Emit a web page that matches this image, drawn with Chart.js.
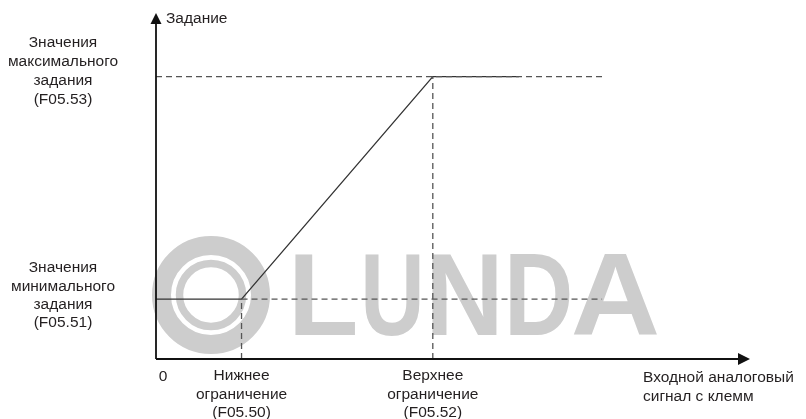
<!DOCTYPE html>
<html>
<head>
<meta charset="utf-8">
<script src="https://cdn.jsdelivr.net/npm/chart.js@4/dist/chart.umd.min.js"></script>
<style>
html,body{margin:0;padding:0;background:#fff;}
#wrap{width:806px;height:419px;position:relative;}
</style>
</head>
<body>
<div id="wrap"><canvas id="c" width="806" height="419"></canvas></div>
<script>
// ---- data (arbitrary axis units 0..100) ----
const axisRange = [0, 100];
const lowerLimitX = 14.4;   // F05.50
const upperLimitX = 46.6;   // F05.52
const flatEndX = 61.1;
const dashEndX = 75.1;
const minSetY = 17.3;       // F05.51
const maxSetY = 81.6;       // F05.53

const curveX = [0, lowerLimitX, upperLimitX, flatEndX];
const curveY = [minSetY, minSetY, maxSetY, maxSetY];

const yAxisTitle = 'Задание';
const xAxisTitle = ['Входной аналоговый', 'сигнал с клемм'];
const originLabel = '0';
const maxLabel = ['Значения', 'максимального', 'задания', '(F05.53)'];
const minLabel = ['Значения', 'минимального', 'задания', '(F05.51)'];
const lowerLabel = ['Нижнее', 'ограничение', '(F05.50)'];
const upperLabel = ['Верхнее', 'ограничение', '(F05.52)'];
const watermarkText = 'LUNDA';

const pts = (xs, ys) => xs.map((x, i) => ({x: x, y: ys[i]}));
const dashStyle = {borderColor: '#555', borderWidth: 1.3, borderDash: [6, 4], pointRadius: 0, fill: false};

const FONT = '"Liberation Sans", Arial, Helvetica, sans-serif';
const TEXT_COLOR = '#231f20';

function drawLines(ctx, lines, cx, cy, lh, align) {
  ctx.textAlign = align;
  ctx.textBaseline = 'middle';
  lines.forEach((l, i) => ctx.fillText(l, cx, cy + i * lh));
}

// watermark glyph boxes (pixels): left, right; shared top/bottom
const wmBoxes = [[295, 355], [365, 420], [432, 497], [510, 570], [573, 657]];
const wmTop = 255, wmBottom = 335;

const decorPlugin = {
  id: 'decor',
  beforeDatasetsDraw(chart) {
    const ctx = chart.ctx;
    ctx.save();
    ctx.strokeStyle = '#cdcdcd';
    ctx.fillStyle = '#cdcdcd';
    // ring logo
    ctx.lineWidth = 19;
    ctx.beginPath(); ctx.arc(211, 295, 49.5, 0, Math.PI * 2); ctx.stroke();
    ctx.lineWidth = 7.5;
    ctx.beginPath(); ctx.arc(211, 295, 31.5, 0, Math.PI * 2); ctx.stroke();
    // letters
    ctx.font = 'bold 112px ' + FONT;
    ctx.textAlign = 'left';
    ctx.textBaseline = 'alphabetic';
    watermarkText.split('').forEach((ch, i) => {
      const m = ctx.measureText(ch);
      const inkL = -m.actualBoundingBoxLeft;
      const inkW = m.actualBoundingBoxRight + m.actualBoundingBoxLeft;
      const asc = m.actualBoundingBoxAscent;
      const [l, r] = wmBoxes[i];
      const sx = (r - l) / inkW;
      const sy = (wmBottom - wmTop) / asc;
      ctx.save();
      ctx.translate(l, wmBottom);
      ctx.scale(sx, sy);
      ctx.fillText(ch, -inkL, 0);
      ctx.restore();
    });
    ctx.restore();
  },
  afterDatasetsDraw(chart) {
    const ctx = chart.ctx;
    const xs = chart.scales.x, ys = chart.scales.y;
    const x0 = xs.getPixelForValue(axisRange[0]);
    const x1 = xs.getPixelForValue(axisRange[1]);
    const y0 = ys.getPixelForValue(axisRange[0]);
    const y1 = ys.getPixelForValue(axisRange[1]);
    ctx.save();
    // axes
    ctx.strokeStyle = '#111';
    ctx.fillStyle = '#111';
    ctx.lineWidth = 1.8;
    ctx.beginPath();
    ctx.moveTo(x0, y0); ctx.lineTo(x0, y1 + 8);
    ctx.moveTo(x0, y0); ctx.lineTo(x1 - 8, y0);
    ctx.stroke();
    // arrows
    ctx.beginPath();
    ctx.moveTo(x0, y1); ctx.lineTo(x0 - 5.5, y1 + 11); ctx.lineTo(x0 + 5.5, y1 + 11); ctx.closePath();
    ctx.fill();
    ctx.beginPath();
    ctx.moveTo(x1, y0); ctx.lineTo(x1 - 12, y0 - 6); ctx.lineTo(x1 - 12, y0 + 6); ctx.closePath();
    ctx.fill();

    // texts
    ctx.fillStyle = TEXT_COLOR;
    ctx.font = '15.5px ' + FONT;
    drawLines(ctx, [yAxisTitle], x0 + 10, y1 + 6, 19, 'left');
    drawLines(ctx, xAxisTitle, 643, y0 + 19, 19, 'left');
    drawLines(ctx, [originLabel], x0 + 7, y0 + 18, 19, 'center');
    const ymx = ys.getPixelForValue(maxSetY);
    const ymn = ys.getPixelForValue(minSetY);
    drawLines(ctx, maxLabel, 63, ymx - 34, 19, 'center');
    drawLines(ctx, minLabel, 63, ymn - 31, 18.2, 'center');
    drawLines(ctx, lowerLabel, xs.getPixelForValue(lowerLimitX), y0 + 17, 18.5, 'center');
    drawLines(ctx, upperLabel, xs.getPixelForValue(upperLimitX), y0 + 17, 18.5, 'center');
    ctx.restore();
  }
};

new Chart(document.getElementById('c'), {
  type: 'scatter',
  data: {
    datasets: [
      Object.assign({data: pts([axisRange[0], dashEndX], [maxSetY, maxSetY]), showLine: true}, dashStyle),
      Object.assign({data: pts([lowerLimitX, dashEndX], [minSetY, minSetY]), showLine: true}, dashStyle),
      Object.assign({data: pts([lowerLimitX, lowerLimitX], [axisRange[0], minSetY]), showLine: true}, dashStyle),
      Object.assign({data: pts([upperLimitX, upperLimitX], [axisRange[0], maxSetY]), showLine: true}, dashStyle),
      {data: pts(curveX, curveY), showLine: true, borderColor: '#333', borderWidth: 1.3, pointRadius: 0, fill: false, tension: 0}
    ]
  },
  options: {
    responsive: false,
    animation: false,
    devicePixelRatio: 1,
    layout: {padding: {left: 156, right: 56, top: 13, bottom: 60}},
    plugins: {legend: {display: false}, tooltip: {enabled: false}},
    scales: {
      x: {type: 'linear', display: false, min: axisRange[0], max: axisRange[1]},
      y: {type: 'linear', display: false, min: axisRange[0], max: axisRange[1]}
    }
  },
  plugins: [decorPlugin]
});
</script>
</body>
</html>
